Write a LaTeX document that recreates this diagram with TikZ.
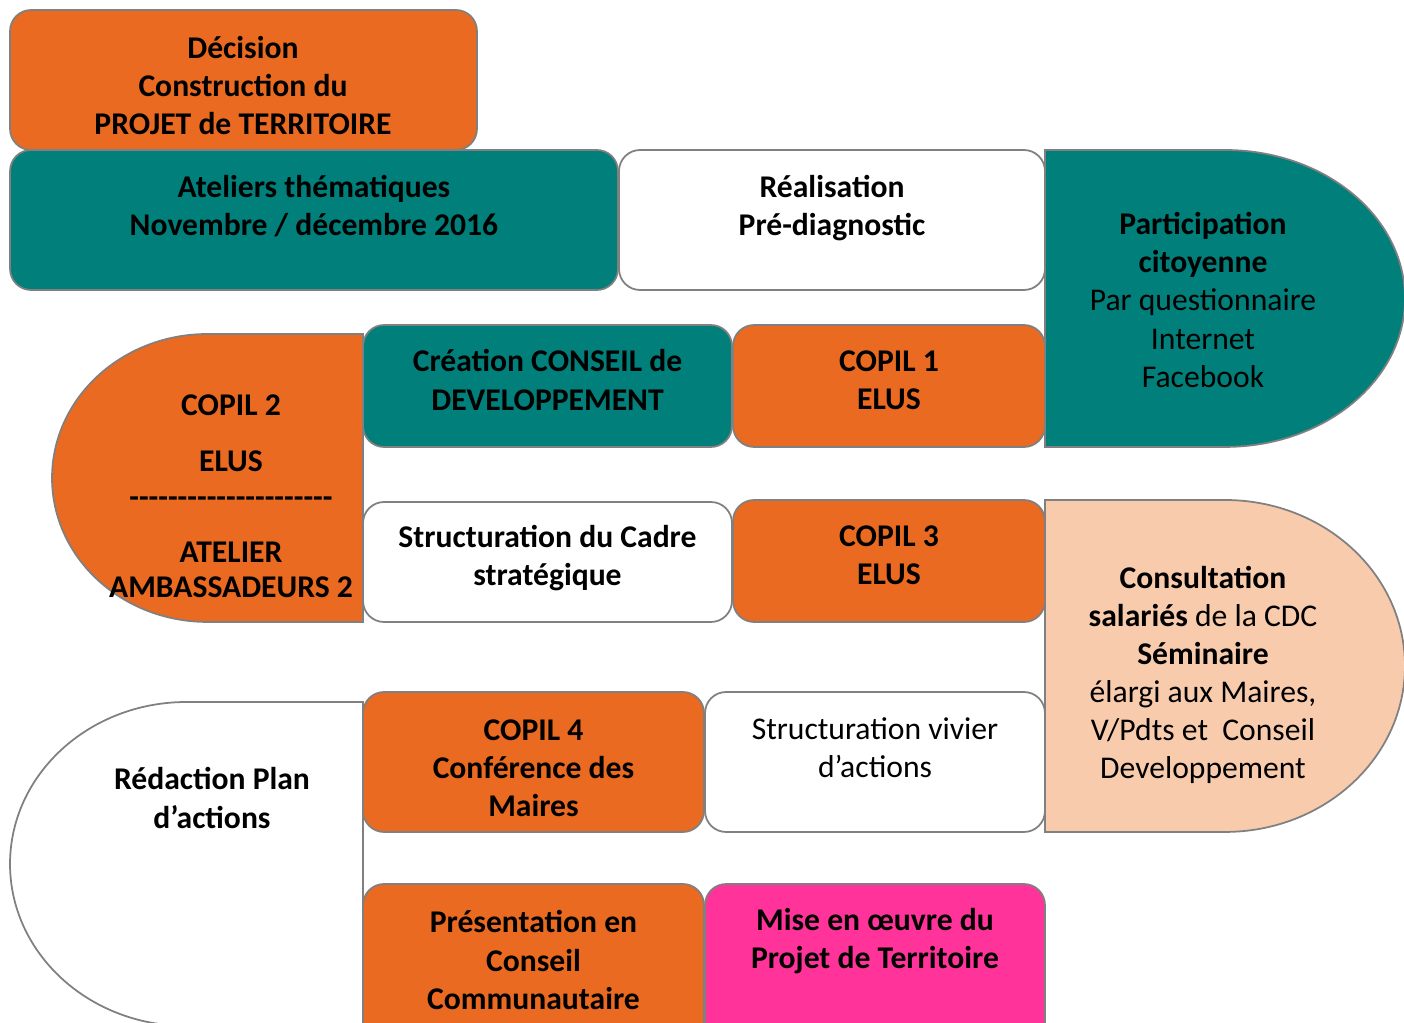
\documentclass[tikz,border=0pt]{standalone}
\usepackage{fontspec}
\setmainfont{Carlito}
\usepackage{tikz}
\usetikzlibrary{positioning}
\definecolor{copilorange}{RGB}{233,106,32}
\definecolor{teal}{RGB}{0,127,123}
\definecolor{peach}{RGB}{248,203,173}
\definecolor{rose}{RGB}{255,51,153}
\definecolor{edge}{RGB}{128,128,128}

\begin{document}
\begin{tikzpicture}
	[x=0.02cm, y=-0.02cm, font=\fontsize{18}{21.7}\selectfont,
	step box/.style	= {rectangle, rounded corners=0.42cm, draw=edge, line width=1pt, inner sep=0pt},
	delay/.style	= {draw=edge, line width=1pt},
	label txt/.style	= {align=center, inner sep=0pt, font=\fontsize{18}{21.7}\selectfont\bfseries},
	plain txt/.style	= {align=center, inner sep=0pt}]

	\useasboundingbox (0,0) rectangle (1404,1023);
	\clip (0,0) rectangle (1404,1023);

	% rounded steps
	\node at (243.5, 80)	[step box, fill=copilorange, minimum width=9.34cm, minimum height=2.8cm]	(decision)	{};
	\node at (314, 220)		[step box, fill=teal, minimum width=12.16cm, minimum height=2.8cm]		(ateliers)	{};
	\node at (832, 220)		[step box, fill=white, minimum width=8.52cm, minimum height=2.8cm]		(realis)	{};
	\node at (547.5, 386)	[step box, fill=teal, minimum width=7.38cm, minimum height=2.44cm]		(conseil)	{};
	\node at (889, 386)		[step box, fill=copilorange, minimum width=6.24cm, minimum height=2.44cm]	(copil1)	{};
	\node at (547.5, 562)	[step box, fill=white, minimum width=7.38cm, minimum height=2.4cm]		(cadre)		{};
	\node at (889, 561)		[step box, fill=copilorange, minimum width=6.24cm, minimum height=2.44cm]	(copil3)	{};
	\node at (533.5, 762)	[step box, fill=copilorange, minimum width=6.82cm, minimum height=2.8cm]	(copil4)	{};
	\node at (875, 762)		[step box, fill=white, minimum width=6.8cm, minimum height=2.8cm]		(vivier)	{};
	\node at (533.5, 964)	[step box, fill=copilorange, minimum width=6.82cm, minimum height=3.2cm]	(presconseil)	{};
	\node at (875, 964)		[step box, fill=rose, minimum width=6.8cm, minimum height=3.2cm]		(miseoeuvre)	{};

	% half-round steps
	\draw [delay, fill=teal] (1045,150) -- (1225,150) arc[start angle=90, end angle=-90, x radius=3.6cm, y radius=2.97cm] -- (1045,447) -- cycle;
	\draw [delay, fill=copilorange] (363,334) -- (207.5,334) arc[start angle=90, end angle=270, x radius=3.11cm, y radius=2.88cm] -- (363,622) -- cycle;
	\draw [delay, fill=peach] (1045,500) -- (1225,500) arc[start angle=90, end angle=-90, x radius=3.6cm, y radius=3.32cm] -- (1045,832) -- cycle;
	\draw [delay, fill=white] (363,702) -- (186.5,702) arc[start angle=90, end angle=270, x radius=3.53cm, y radius=3.24cm] -- (363,1026) -- cycle;

	% texts
	\node at (243, 85.5)	[label txt]	(decisiontxt)	{Décision\\Construction du\\PROJET de TERRITOIRE};
	\node at (314, 206)		[label txt]	(atelierstxt)	{Ateliers thématiques\\Novembre / décembre 2016};
	\node at (832, 208)		[label txt]	(realistxt)		{Réalisation\\Pré-diagnostic};
	\node at (1203, 300)	[plain txt]	(citoyentxt)	{\textbf{Participation}\\\textbf{citoyenne}\\Par questionnaire\\Internet\\Facebook};
	\node at (547.5, 380)	[label txt]	(conseiltxt)	{Création CONSEIL de\\DEVELOPPEMENT};
	\node at (889, 380)		[label txt]	(copil1txt)		{COPIL 1\\ELUS};
	\node at (231, 496)		[label txt]	(copil2txt)		{COPIL 2\\[10.5pt]ELUS\\[-1.5pt]-{}-{}-{}-{}-{}-{}-{}-{}-{}-{}-{}-{}-{}-{}-{}-{}-{}-{}-{}-{}-{}\\[10pt]ATELIER\\[-2pt]AMBASSADEURS 2};
	\node at (547.5, 558)	[label txt]	(cadretxt)		{Structuration du Cadre\\stratégique};
	\node at (889, 555)		[label txt]	(copil3txt)		{COPIL 3\\ELUS};
	\node at (1203, 675)	[plain txt]	(consulttxt)	{\textbf{Consultation}\\\textbf{salariés} de la CDC\\\textbf{Séminaire}\\élargi aux Maires,\\V/Pdts et~ Conseil\\Developpement};
	\node at (212, 798)		[label txt]	(redactiontxt)	{Rédaction Plan\\d’actions};
	\node at (533.5, 768)	[label txt]	(copil4txt)		{COPIL 4\\Conférence des\\Maires};
	\node at (875, 748)		[plain txt]	(viviertxt)		{Structuration vivier\\d’actions};
	\node at (533.5, 960)	[label txt]	(prestxt)		{Présentation en\\Conseil\\Communautaire};
	\node at (875, 941)		[label txt]	(misetxt)		{Mise en œuvre du\\Projet de Territoire};

\end{tikzpicture}
\end{document}
